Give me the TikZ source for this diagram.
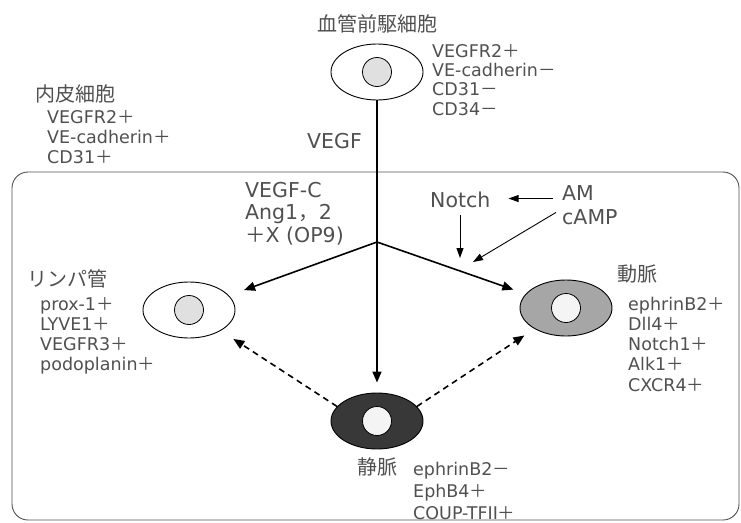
\documentclass[tikz,border=0pt]{standalone}
\usepackage{fontspec}
\setmainfont{DejaVu Sans}
\newfontfamily\jpfont{Noto Sans CJK JP}
\usetikzlibrary{arrows.meta,positioning,shapes.geometric,calc}
\definecolor{vsink}{HTML}{505050}
\definecolor{vsgrey}{HTML}{A6A6A6}
\definecolor{vsdark}{HTML}{383838}
\definecolor{vslight}{HTML}{E0E0E0}
\definecolor{vspale}{HTML}{F4F4F4}
\newcommand\pls{{\jpfont ＋}}
\newcommand\mns{{\jpfont －}}
\tikzset{
  cell/.style={draw=black,ellipse,minimum width=92pt,minimum height=56pt,
               inner sep=0pt,line width=0.9pt},
  nuc/.style={draw=black,circle,minimum size=29pt,inner sep=0pt,line width=0.8pt},
  ttl/.style={font=\jpfont\fontsize{20}{22}\selectfont,text=vsink,inner sep=0pt},
  mk/.style={font=\fontsize{17.5}{20}\selectfont,text=vsink,inner sep=0pt,
             align=left,anchor=base west},
  fk/.style={mk,font=\fontsize{20.5}{22.5}\selectfont},
  frame/.style={draw=vsink,line width=0.9pt,rounded corners=16pt},
  ar/.style={-{Triangle[length=11pt,width=9pt]},line width=1.6pt,black},
  arr/.style={ar,dash pattern=on 6pt off 4.5pt},
  arn/.style={-{Triangle[length=10pt,width=7pt]},line width=0.9pt,black},
}
\begin{document}
\begin{tikzpicture}[x=1pt,y=-1pt]
  \useasboundingbox (0,0) rectangle (741,522);
  \draw[frame] (12,172) rectangle (739,520);
  % cells
  \node[cell] (prog) at (377,72) {};
  \node[nuc,fill=vslight] (progN) at (prog) {};
  \node[cell] (lym) at (189,310) {};
  \node[nuc,fill=vslight] (lymN) at (lym) {};
  \node[cell,fill=vsgrey] (art) at (566,308) {};
  \node[nuc,fill=vspale] (artN) at (art) {};
  \node[cell,fill=vsdark] (vein) at (377,421) {};
  \node[nuc,fill=vspale] (veinN) at (vein) {};
  % labels (multi-line: placed at the last baseline)
  \node[ttl,anchor=base] (progT) at (377,31) {血管前駆細胞};
  \node[mk,font=\fontsize{17.5}{19.3}\selectfont] (progM) at (432,115) {VEGFR2\pls\\VE-cadherin\mns\\CD31\mns\\CD34\mns};
  \node[ttl,anchor=base west] (ecT) at (35,101) {内皮細胞};
  \node[mk] (ecM) at (47,163) {VEGFR2\pls\\VE-cadherin\pls\\CD31\pls};
  \node[fk] (vegf) at (307,148) {VEGF};
  \node[fk] (fct) at (245,242) {VEGF-C\\Ang1{\jpfont ，}2\\\pls X (OP9)};
  \node[ttl,anchor=base west] (lymT) at (27,286) {リンパ管};
  \node[mk] (lymM) at (40,370) {prox-1\pls\\LYVE1\pls\\VEGFR3\pls\\podoplanin\pls};
  \node[ttl,anchor=base west] (artT) at (617,281) {動脈};
  \node[mk,font=\fontsize{17.5}{20.25}\selectfont] (artM) at (628,391) {ephrinB2\pls\\Dll4\pls\\Notch1\pls\\Alk1\pls\\CXCR4\pls};
  \node[ttl,anchor=base west] (veinT) at (357,474) {静脈};
  \node[mk,font=\fontsize{17.5}{22}\selectfont] (veinM) at (413,519) {ephrinB2\mns\\EphB4\pls\\COUP-TFII\pls};
  \node[fk] (notch) at (430,207) {Notch};
  \node[fk] (am) at (562,200) {AM};
  \node[fk] (camp) at (562,224) {cAMP};
  \coordinate (br) at (377,242);
  \coordinate (ntTip) at (460,258);
  \coordinate (caTip) at (473,262);
  % connectors
  \draw[ar,shorten >=10pt] (prog.south) -- (vein.north);
  \draw[ar,shorten >=16pt] (br) -- (lym);
  \draw[ar,shorten >=13pt] (br) -- (art);
  \draw[arr,shorten >=15pt] (vein.160) -- (lym);
  \draw[arr,shorten >=12pt] (vein.20) -- (art);
  \draw[arn,shorten <=9pt,shorten >=18pt] ([yshift=-6pt]am.west) -- ([yshift=-6pt]am.west -| notch.east);
  \draw[arn] ([yshift=-8pt]notch.south -| ntTip) -- (ntTip);
  \draw[arn,shorten <=7pt] (camp.north west) -- (caTip);
\end{tikzpicture}
\end{document}
